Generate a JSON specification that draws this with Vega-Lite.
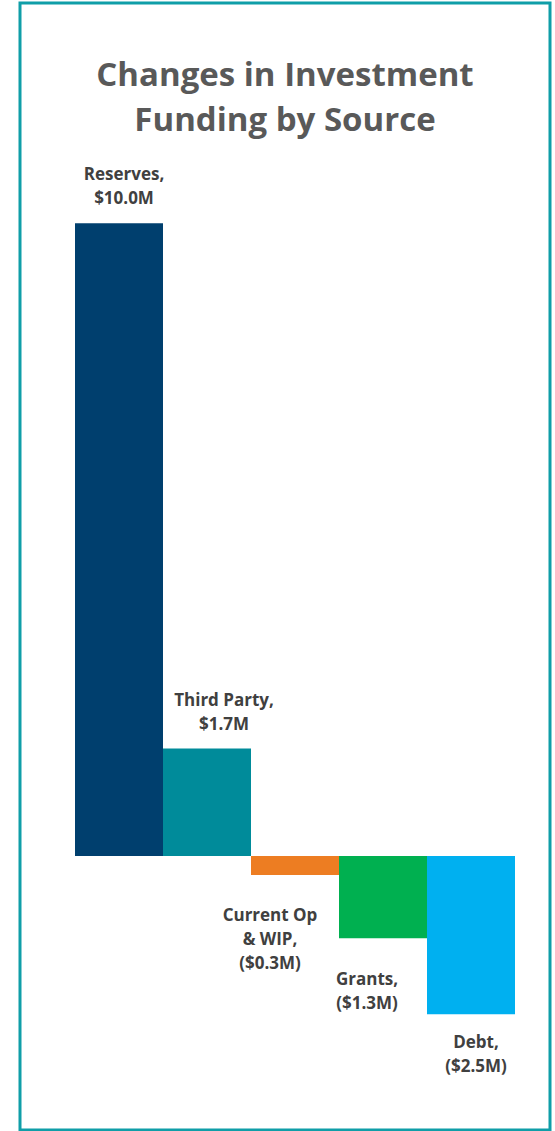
{
  "$schema": "https://vega.github.io/schema/vega-lite/v6.json",
  "autosize": "none",
  "width": 530,
  "height": 1127,
  "padding": {"left": 20, "top": 3, "right": 5, "bottom": 1},
  "background": "white",
  "config": {
    "view": {"stroke": "#0f9ea8", "strokeWidth": 3},
    "text": {"font": "Open Sans", "fontWeight": "bold", "fontSize": 17, "color": "#404040", "lineHeight": 24, "lineBreak": "\n"}
  },
  "title": {
    "text": ["Changes in Investment", "Funding by Source"],
    "font": "Open Sans",
    "fontSize": 33,
    "fontWeight": "bold",
    "color": "#595959",
    "anchor": "middle",
    "frame": "group",
    "baseline": "top",
    "lineHeight": 45,
    "offset": -135
  },
  "data": {
    "values": [
      {"source": "Reserves", "value": 10.0, "label": "Reserves,\n$10.0M"},
      {"source": "Third Party", "value": 1.7, "label": "Third Party,\n$1.7M"},
      {"source": "Current Op & WIP", "value": -0.3, "label": "Current Op\n& WIP,\n($0.3M)"},
      {"source": "Grants", "value": -1.3, "label": "Grants,\n($1.3M)"},
      {"source": "Debt", "value": -2.5, "label": "Debt,\n($2.5M)"}
    ]
  },
  "encoding": {
    "x": {
      "field": "source", "type": "nominal", "sort": null,
      "scale": {"range": [55, 495], "paddingInner": 0, "paddingOuter": 0},
      "axis": null
    },
    "y": {
      "field": "value", "type": "quantitative",
      "scale": {"domain": [-4.33, 13.48], "nice": false, "zero": false},
      "axis": null
    }
  },
  "layer": [
    {
      "mark": {"type": "bar"},
      "encoding": {
        "y2": {"datum": 0},
        "color": {
          "field": "source", "type": "nominal", "sort": null,
          "scale": {
            "domain": ["Reserves", "Third Party", "Current Op & WIP", "Grants", "Debt"],
            "range": ["#003f6e", "#008b9a", "#ed7d22", "#00b050", "#00b0f0"]
          },
          "legend": null
        }
      }
    },
    {
      "transform": [{"filter": "datum.source === 'Reserves'"}],
      "mark": {"type": "text", "baseline": "bottom", "dx": 5, "dy": -39},
      "encoding": {"text": {"field": "label"}}
    },
    {
      "transform": [{"filter": "datum.source === 'Third Party'"}],
      "mark": {"type": "text", "baseline": "bottom", "dx": 17, "dy": -38},
      "encoding": {"text": {"field": "label"}}
    },
    {
      "transform": [{"filter": "datum.source === 'Current Op & WIP'"}],
      "mark": {"type": "text", "baseline": "top", "dx": -25, "dy": 33},
      "encoding": {"text": {"field": "label"}}
    },
    {
      "transform": [{"filter": "datum.source === 'Grants'"}],
      "mark": {"type": "text", "baseline": "top", "dx": -16, "dy": 34},
      "encoding": {"text": {"field": "label"}}
    },
    {
      "transform": [{"filter": "datum.source === 'Debt'"}],
      "mark": {"type": "text", "baseline": "top", "dx": 5, "dy": 21},
      "encoding": {"text": {"field": "label"}}
    }
  ]
}
